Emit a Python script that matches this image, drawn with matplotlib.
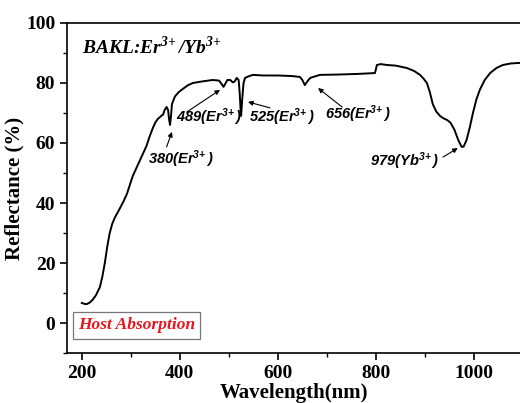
import matplotlib
matplotlib.use("Agg")
import matplotlib.pyplot as plt
from matplotlib.ticker import MultipleLocator

# reflectance spectrum
wavelength = [200, 205, 210, 216, 222, 229, 237, 242, 247, 252, 257, 262, 267, 272,
              277, 285, 292, 298, 304, 311, 318, 325, 332, 338, 345, 350, 355,
              362, 366, 369, 373, 376, 378, 380, 382, 384, 390, 398, 406, 417, 427,
              445, 467, 480, 486, 489, 492, 497, 503, 508, 512, 516, 520, 522, 524,
              525, 527, 530, 533, 540, 549, 570, 600, 630, 645, 650, 655, 660, 666,
              672, 686, 720, 760, 798, 800, 802, 810, 822, 840, 863, 878, 890, 897,
              904, 910, 916, 923, 931, 938, 945, 952, 960, 968, 975, 979, 985, 992,
              998, 1005, 1012, 1022, 1033, 1046, 1059, 1075, 1094]
reflectance = [6.7, 6.4, 6.3, 6.8, 7.7, 9.3, 12, 15.5, 20, 25.5, 30, 33, 35, 36.5,
               38, 40.5, 43, 46, 49, 51.5, 54, 56.5, 59, 62, 65, 66.8, 68,
               69, 69.5, 71, 72, 71, 68, 66, 69, 73, 75.5, 77, 78, 79.3, 80,
               80.5, 81, 80.8, 79.5, 78.7, 79.5, 81, 81, 80.2, 80.5, 81.7, 81, 77, 71,
               69, 74, 80, 81.7, 82.2, 82.7, 82.5, 82.5, 82.3, 82, 81, 79.3, 80.5, 81.7,
               82, 82.7, 82.8, 83, 83.3, 84.5, 86, 86.3, 86, 85.8, 85, 84, 82.7, 81.5,
               80, 77, 73, 70.5, 69, 68.2, 67.7, 66.8, 64.5, 61, 58.7, 58.8, 61, 65.5,
               70, 74.5, 77.7, 81, 83.3, 85, 86, 86.5, 86.7]

# peak labels: text, text position, arrow tail, arrow head
labels = [r"380(Er$^{3\!+}$)", r"489(Er$^{3\!+}$)", r"525(Er$^{3\!+}$)",
          r"656(Er$^{3\!+}$)", r"979(Yb$^{3\!+}$)"]
label_pos = [(402, 54.5), (459, 68.5), (608, 68.5), (762, 69.5), (859, 54)]
arrow_tail = [(373, 58.7), (414, 70.3), (584, 71.7), (731, 72), (937, 55.3)]
arrow_head = [(384, 63.7), (482, 77.7), (539, 73.7), (682, 78.3), (967, 58.3)]

plt.rcParams['mathtext.fontset'] = 'custom'
plt.rcParams['mathtext.rm'] = 'Liberation Sans:italic:bold'
plt.rcParams['mathtext.it'] = 'Liberation Sans:italic:bold'
plt.rcParams['mathtext.cal'] = 'Liberation Serif:italic:bold'

fig = plt.figure(figsize=(5.2, 4.03), dpi=100)
ax = fig.add_axes([0.129, 0.124, 0.871, 0.819])

ax.plot(wavelength, reflectance, color='black', lw=1.4)

ax.set_xlim(170, 1094)
ax.set_ylim(-10, 100)
ax.xaxis.set_major_locator(MultipleLocator(200))
ax.xaxis.set_minor_locator(MultipleLocator(100))
ax.yaxis.set_major_locator(MultipleLocator(20))
ax.yaxis.set_minor_locator(MultipleLocator(10))
ax.tick_params(which='major', direction='out', length=5, width=1.2)
ax.tick_params(which='minor', direction='out', length=3, width=1.0)
ax.tick_params(top=False, right=False)
ax.spines['right'].set_visible(False)
for s in ['left', 'bottom', 'top']:
    ax.spines[s].set_linewidth(1.2)

for lab in ax.get_xticklabels() + ax.get_yticklabels():
    lab.set_family('Liberation Serif')
    lab.set_fontweight('bold')
    lab.set_fontsize(14)

ax.set_xlabel('Wavelength(nm)', family='Liberation Serif', fontweight='bold',
              fontsize=15, labelpad=1)
ax.set_ylabel('Reflectance (%)', family='Liberation Serif', fontweight='bold',
              fontsize=15, labelpad=1)

ax.text(200, 90, r"BAKL:Er$^{\mathcal{3\!+}}$/Yb$^{\mathcal{3\!+}}$",
        family='Liberation Serif', fontweight='bold', style='italic',
        fontsize=14, ha='left', va='baseline')

for txt, pos, tail, head in zip(labels, label_pos, arrow_tail, arrow_head):
    ax.text(pos[0], pos[1], txt, family='Liberation Sans', fontweight='bold',
            style='italic', fontsize=10.5, ha='center', va='center')
    ax.annotate('', xy=head, xytext=tail,
                arrowprops=dict(arrowstyle='-|>', color='black', lw=0.8,
                                mutation_scale=7, shrinkA=0, shrinkB=0))

ax.text(312, -0.8, 'Host Absorption', family='Liberation Serif', fontweight='bold',
        style='italic', fontsize=12.5, color='#e8141e', ha='center', va='center',
        bbox=dict(boxstyle='square,pad=0.3', facecolor='white', edgecolor='#777777',
                  lw=0.9))

fig.savefig('out.png', dpi=100)
